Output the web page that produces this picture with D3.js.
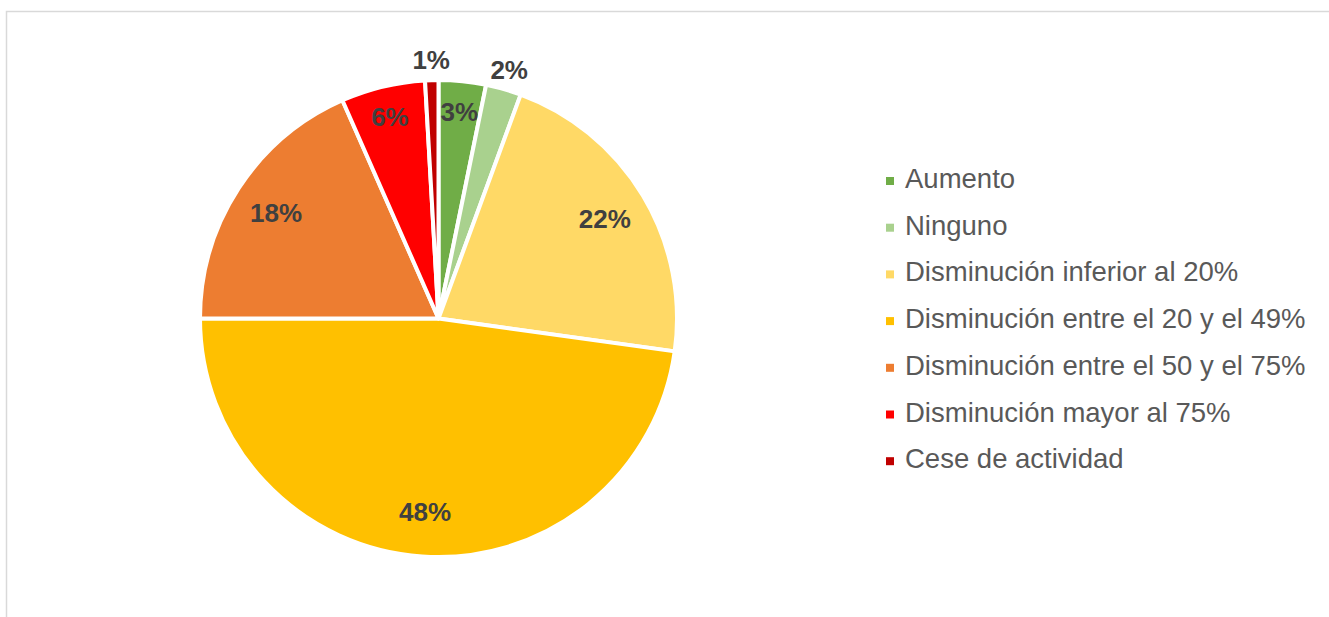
<!DOCTYPE html>
<html>
<head>
<meta charset="utf-8">
<script src="https://cdn.jsdelivr.net/npm/d3@7"></script>
<style>
  body { margin: 0; background: #fff; }
  svg text { font-family: "Liberation Sans", Arial, sans-serif; }
</style>
</head>
<body>
<div id="chart"></div>
<script>
// categories and shares (percent)
const categories = [
    "Aumento",
    "Ninguno",
    "Disminución inferior al 20%",
    "Disminución entre el 20 y el 49%",
    "Disminución entre el 50 y el 75%",
    "Disminución mayor al 75%",
    "Cese de actividad"
];
const values = [3.2, 2.4, 21.6, 47.8, 18.4, 5.7, 0.9];
const colors = ["#70ad47", "#a9d18e", "#ffd966", "#ffc000", "#ed7d31", "#ff0000", "#c00000"];

function drawPie() {
    const width = 1329;
    const height = 617;
    const cx = 438.5, cy = 318.5, radius = 238.5;

    const svg = d3.select("#chart")
        .append("svg")
        .attr("width", width)
        .attr("height", height);

    // chart area frame
    svg.append("rect")
        .attr("x", 6.5)
        .attr("y", 11.5)
        .attr("width", width + 20)
        .attr("height", height + 20)
        .attr("fill", "none")
        .attr("stroke", "#d9d9d9")
        .attr("stroke-width", 1.5);

    const data = categories.map((c, i) => ({name: c, value: values[i], color: colors[i]}));

    const pie = d3.pie()
        .sort(null)
        .value(d => d.value);

    const arc = d3.arc()
        .innerRadius(0)
        .outerRadius(radius);

    // label rings: big slices, narrow slices, outside
    const arcBig = d3.arc().innerRadius(194).outerRadius(194);
    const arcNarrow = d3.arc().innerRadius(208).outerRadius(208);
    const arcOut = d3.arc().innerRadius(259).outerRadius(259);

    const g = svg.append("g")
        .attr("transform", `translate(${cx},${cy})`);

    const slices = pie(data);

    g.selectAll("path")
        .data(slices)
        .join("path")
        .attr("d", arc)
        .attr("fill", d => d.data.color)
        .attr("stroke", "white")
        .attr("stroke-width", 4)
        .attr("stroke-linejoin", "round");

    g.selectAll("text.lbl")
        .data(slices)
        .join("text")
        .attr("class", "lbl")
        .attr("transform", function (d) {
            let a = arcBig;
            if (d.data.value < 3) a = arcOut;
            else if (d.data.value < 10) a = arcNarrow;
            const c = a.centroid(d);
            return `translate(${c[0]},${c[1]})`;
        })
        .attr("text-anchor", "middle")
        .attr("dy", "0.36em")
        .attr("font-size", 26)
        .attr("font-weight", "bold")
        .attr("fill", "#404040")
        .text(d => Math.round(d.data.value) + "%");

    // legend
    const legend = svg.append("g")
        .attr("transform", "translate(886,188)");

    const rowH = 46.7;

    const item = legend.selectAll("g")
        .data(data)
        .join("g")
        .attr("transform", (d, i) => `translate(0,${i * rowH})`);

    item.append("rect")
        .attr("x", 0)
        .attr("y", -11)
        .attr("width", 8)
        .attr("height", 8)
        .attr("fill", d => d.color);

    item.append("text")
        .attr("x", 19)
        .attr("y", 0)
        .attr("font-size", 27.5)
        .attr("fill", "#595959")
        .text(d => d.name);
}
drawPie();
</script>
</body>
</html>
